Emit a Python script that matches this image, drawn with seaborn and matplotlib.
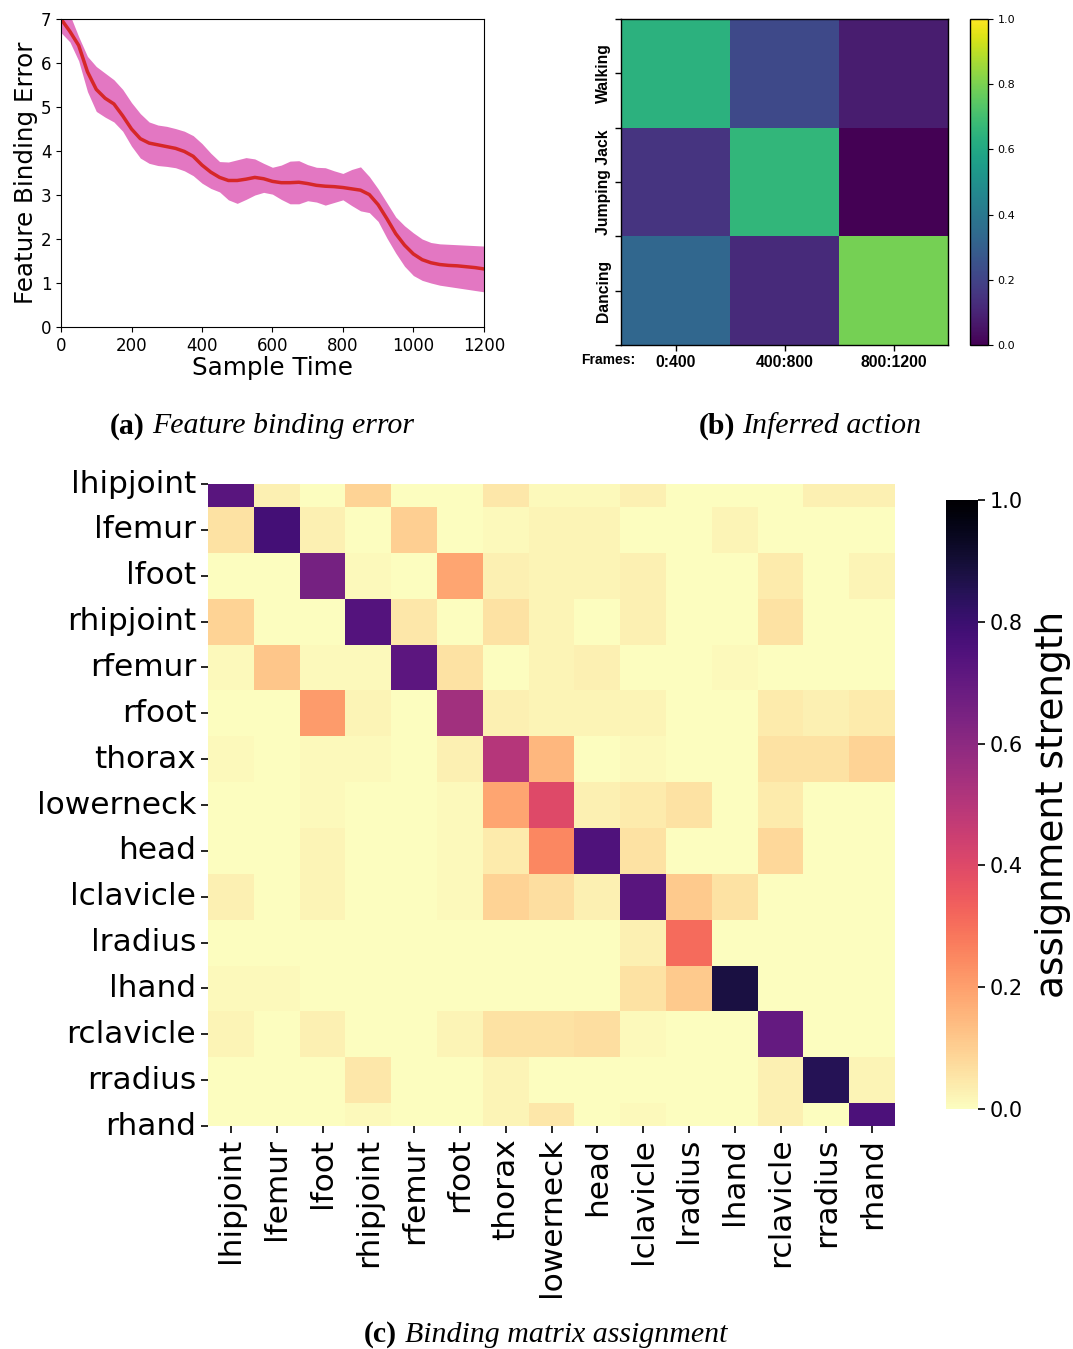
import numpy as np
import matplotlib
matplotlib.use("Agg")
import matplotlib.pyplot as plt
import seaborn as sns

# ---- (a) feature binding error over sample time ----
sample_time = list(range(0, 1201, 25))
error_mean = [7.0, 6.72, 6.4, 5.8, 5.4, 5.2, 5.07, 4.8, 4.5, 4.28, 4.18, 4.14, 4.1,
              4.06, 3.99, 3.88, 3.68, 3.52, 3.4, 3.33, 3.33, 3.36, 3.4, 3.37, 3.31,
              3.28, 3.28, 3.29, 3.26, 3.22, 3.2, 3.19, 3.17, 3.14, 3.11, 3.01, 2.78,
              2.46, 2.12, 1.86, 1.66, 1.53, 1.46, 1.42, 1.4, 1.39, 1.37, 1.35, 1.32]
error_upper = [7.25, 7.1, 6.6, 6.15, 5.92, 5.77, 5.62, 5.4, 5.1, 4.85, 4.66, 4.59, 4.56,
               4.51, 4.45, 4.35, 4.17, 3.95, 3.76, 3.75, 3.8, 3.85, 3.82, 3.72, 3.63,
               3.68, 3.77, 3.78, 3.69, 3.63, 3.62, 3.55, 3.49, 3.58, 3.64, 3.42, 3.14,
               2.82, 2.5, 2.3, 2.14, 2.0, 1.92, 1.89, 1.88, 1.87, 1.86, 1.85, 1.84]
error_lower = [6.69, 6.48, 6.05, 5.35, 4.9, 4.77, 4.66, 4.45, 4.11, 3.84, 3.72, 3.67, 3.65,
               3.62, 3.55, 3.44, 3.27, 3.15, 3.07, 2.89, 2.81, 2.9, 3.0, 3.06, 3.02,
               2.9, 2.8, 2.8, 2.87, 2.84, 2.77, 2.83, 2.89, 2.76, 2.64, 2.6, 2.4,
               2.02, 1.68, 1.38, 1.17, 1.06, 1.0, 0.95, 0.92, 0.89, 0.86, 0.83, 0.8]

# ---- (b) inferred action per frame window ----
actions = ["Walking", "Jumping Jack", "Dancing"]
frame_windows = ["0:400", "400:800", "800:1200"]
action_probs = [[0.64, 0.22, 0.08],
                [0.15, 0.66, 0.0],
                [0.33, 0.12, 0.79]]

# ---- (c) binding matrix assignment ----
joints = ["lhipjoint", "lfemur", "lfoot", "rhipjoint", "rfemur", "rfoot", "thorax",
          "lowerneck", "head", "lclavicle", "lradius", "lhand", "rclavicle",
          "rradius", "rhand"]
binding = [
    [0.73, 0.03, 0.0, 0.09, 0.0, 0.0, 0.05, 0.01, 0.01, 0.03, 0.0, 0.0, 0.0, 0.03, 0.03],
    [0.06, 0.78, 0.03, 0.0, 0.10, 0.0, 0.01, 0.02, 0.02, 0.0, 0.0, 0.02, 0.0, 0.0, 0.0],
    [0.0, 0.0, 0.66, 0.01, 0.0, 0.19, 0.03, 0.02, 0.02, 0.03, 0.0, 0.0, 0.04, 0.0, 0.02],
    [0.09, 0.0, 0.0, 0.74, 0.05, 0.0, 0.06, 0.02, 0.0, 0.03, 0.0, 0.0, 0.06, 0.0, 0.0],
    [0.01, 0.12, 0.01, 0.01, 0.72, 0.06, 0.0, 0.02, 0.03, 0.0, 0.0, 0.01, 0.0, 0.0, 0.0],
    [0.0, 0.0, 0.21, 0.02, 0.0, 0.55, 0.03, 0.02, 0.02, 0.02, 0.0, 0.0, 0.04, 0.03, 0.04],
    [0.01, 0.0, 0.01, 0.01, 0.0, 0.03, 0.50, 0.15, 0.0, 0.01, 0.0, 0.0, 0.06, 0.06, 0.09],
    [0.0, 0.0, 0.01, 0.0, 0.0, 0.01, 0.19, 0.40, 0.03, 0.04, 0.06, 0.0, 0.04, 0.0, 0.0],
    [0.0, 0.0, 0.02, 0.0, 0.0, 0.01, 0.04, 0.25, 0.75, 0.06, 0.0, 0.0, 0.08, 0.0, 0.0],
    [0.03, 0.0, 0.02, 0.0, 0.0, 0.01, 0.09, 0.07, 0.03, 0.73, 0.11, 0.06, 0.0, 0.0, 0.0],
    [0.0, 0.0, 0.0, 0.0, 0.0, 0.0, 0.0, 0.0, 0.0, 0.03, 0.31, 0.0, 0.0, 0.0, 0.0],
    [0.01, 0.01, 0.0, 0.0, 0.0, 0.0, 0.0, 0.0, 0.0, 0.06, 0.11, 0.88, 0.0, 0.0, 0.0],
    [0.02, 0.0, 0.03, 0.0, 0.0, 0.02, 0.06, 0.06, 0.07, 0.01, 0.0, 0.0, 0.70, 0.0, 0.0],
    [0.0, 0.0, 0.0, 0.05, 0.0, 0.0, 0.02, 0.0, 0.0, 0.0, 0.0, 0.0, 0.03, 0.85, 0.02],
    [0.0, 0.0, 0.0, 0.01, 0.0, 0.0, 0.02, 0.05, 0.0, 0.01, 0.0, 0.0, 0.03, 0.0, 0.76],
]

fig = plt.figure(figsize=(10.73, 13.49), dpi=100)

# ---------- (a) ----------
ax_a = fig.add_axes([0.0569, 0.7576, 0.394, 0.2283])
ax_a.fill_between(sample_time, error_lower, error_upper, color="#e377c2", linewidth=0)
sns.lineplot(x=sample_time, y=error_mean, ax=ax_a, color="#d62728", linewidth=2.5)
ax_a.set_xlim(0, 1200)
ax_a.set_ylim(0, 7)
ax_a.set_xticks(range(0, 1201, 200))
ax_a.set_yticks(range(0, 8))
ax_a.tick_params(labelsize=12)
ax_a.set_xlabel("Sample Time", fontsize=17.7, labelpad=1)
ax_a.set_ylabel("Feature Binding Error", fontsize=17.7, labelpad=2)

# ---------- (b) ----------
ax_b = fig.add_axes([0.5788, 0.7443, 0.3048, 0.2417])
cax_b = fig.add_axes([0.904, 0.7443, 0.0168, 0.2417])
sns.heatmap(np.array(action_probs), ax=ax_b, cbar_ax=cax_b, cmap="viridis",
            vmin=0, vmax=1, xticklabels=frame_windows, yticklabels=actions)
for s in ax_b.spines.values():
    s.set_visible(True)
    s.set_linewidth(1)
ax_b.set_yticks([0, 1, 2, 3], minor=True)
ax_b.tick_params(axis="both", which="both", length=4, width=1)
for lab in ax_b.get_yticklabels():
    lab.set_rotation(90)
    lab.set_va("center")
    lab.set_fontweight("bold")
    lab.set_fontsize(11.3)
    lab.set_family("Liberation Sans")
for lab in ax_b.get_xticklabels():
    lab.set_rotation(0)
    lab.set_fontweight("bold")
    lab.set_fontsize(11.3)
    lab.set_family("Liberation Sans")
ax_b.text(-0.04, -0.046, "Frames:", transform=ax_b.transAxes, ha="center", va="center",
          fontsize=10, fontweight="bold", family="Liberation Sans")
cb_b = ax_b.collections[0].colorbar
cb_b.outline.set_linewidth(1)
cb_b.set_ticks([0, 0.2, 0.4, 0.6, 0.8, 1.0])
cb_b.ax.tick_params(labelsize=8)

# ---------- (c) ----------
ax_c = fig.add_axes([0.1939, 0.1653, 0.6403, 0.4759])
cax_c = fig.add_axes([0.8816, 0.1779, 0.0298, 0.4514])
sns.heatmap(np.array(binding), ax=ax_c, cbar_ax=cax_c, cmap="magma_r", vmin=0, vmax=1,
            xticklabels=joints, yticklabels=joints)
# top and bottom rows half cut, as in the original figure
ax_c.set_ylim(14.5, 0.5)
ax_c.tick_params(axis="both", length=5, width=1.2, labelsize=22.5)
plt.setp(ax_c.get_xticklabels(), rotation=90)
plt.setp(ax_c.get_yticklabels(), rotation=0)
cb_c = ax_c.collections[0].colorbar
cb_c.set_ticks([0, 0.2, 0.4, 0.6, 0.8, 1.0])
cb_c.ax.tick_params(labelsize=15, length=5, width=1.2)
cb_c.set_label("assignment strength", fontsize=27, labelpad=9)

# ---------- captions ----------
cap_font = "Liberation Serif"
def caption(x_split, y, tag, text):
    fig.text(x_split, y, tag, ha="right", va="center", fontsize=21.5,
             fontweight="bold", family=cap_font)
    fig.text(x_split + 0.007, y, text, ha="left", va="center", fontsize=21.5,
             style="italic", family=cap_font)

caption(145 / 1073, 1 - 426 / 1349, "(a)", "Feature binding error")
caption(735 / 1073, 1 - 426 / 1349, "(b)", "Inferred action")
caption(397 / 1073, 1 - 1335 / 1349, "(c)", "Binding matrix assignment")

fig.savefig("out.png", dpi=100)
